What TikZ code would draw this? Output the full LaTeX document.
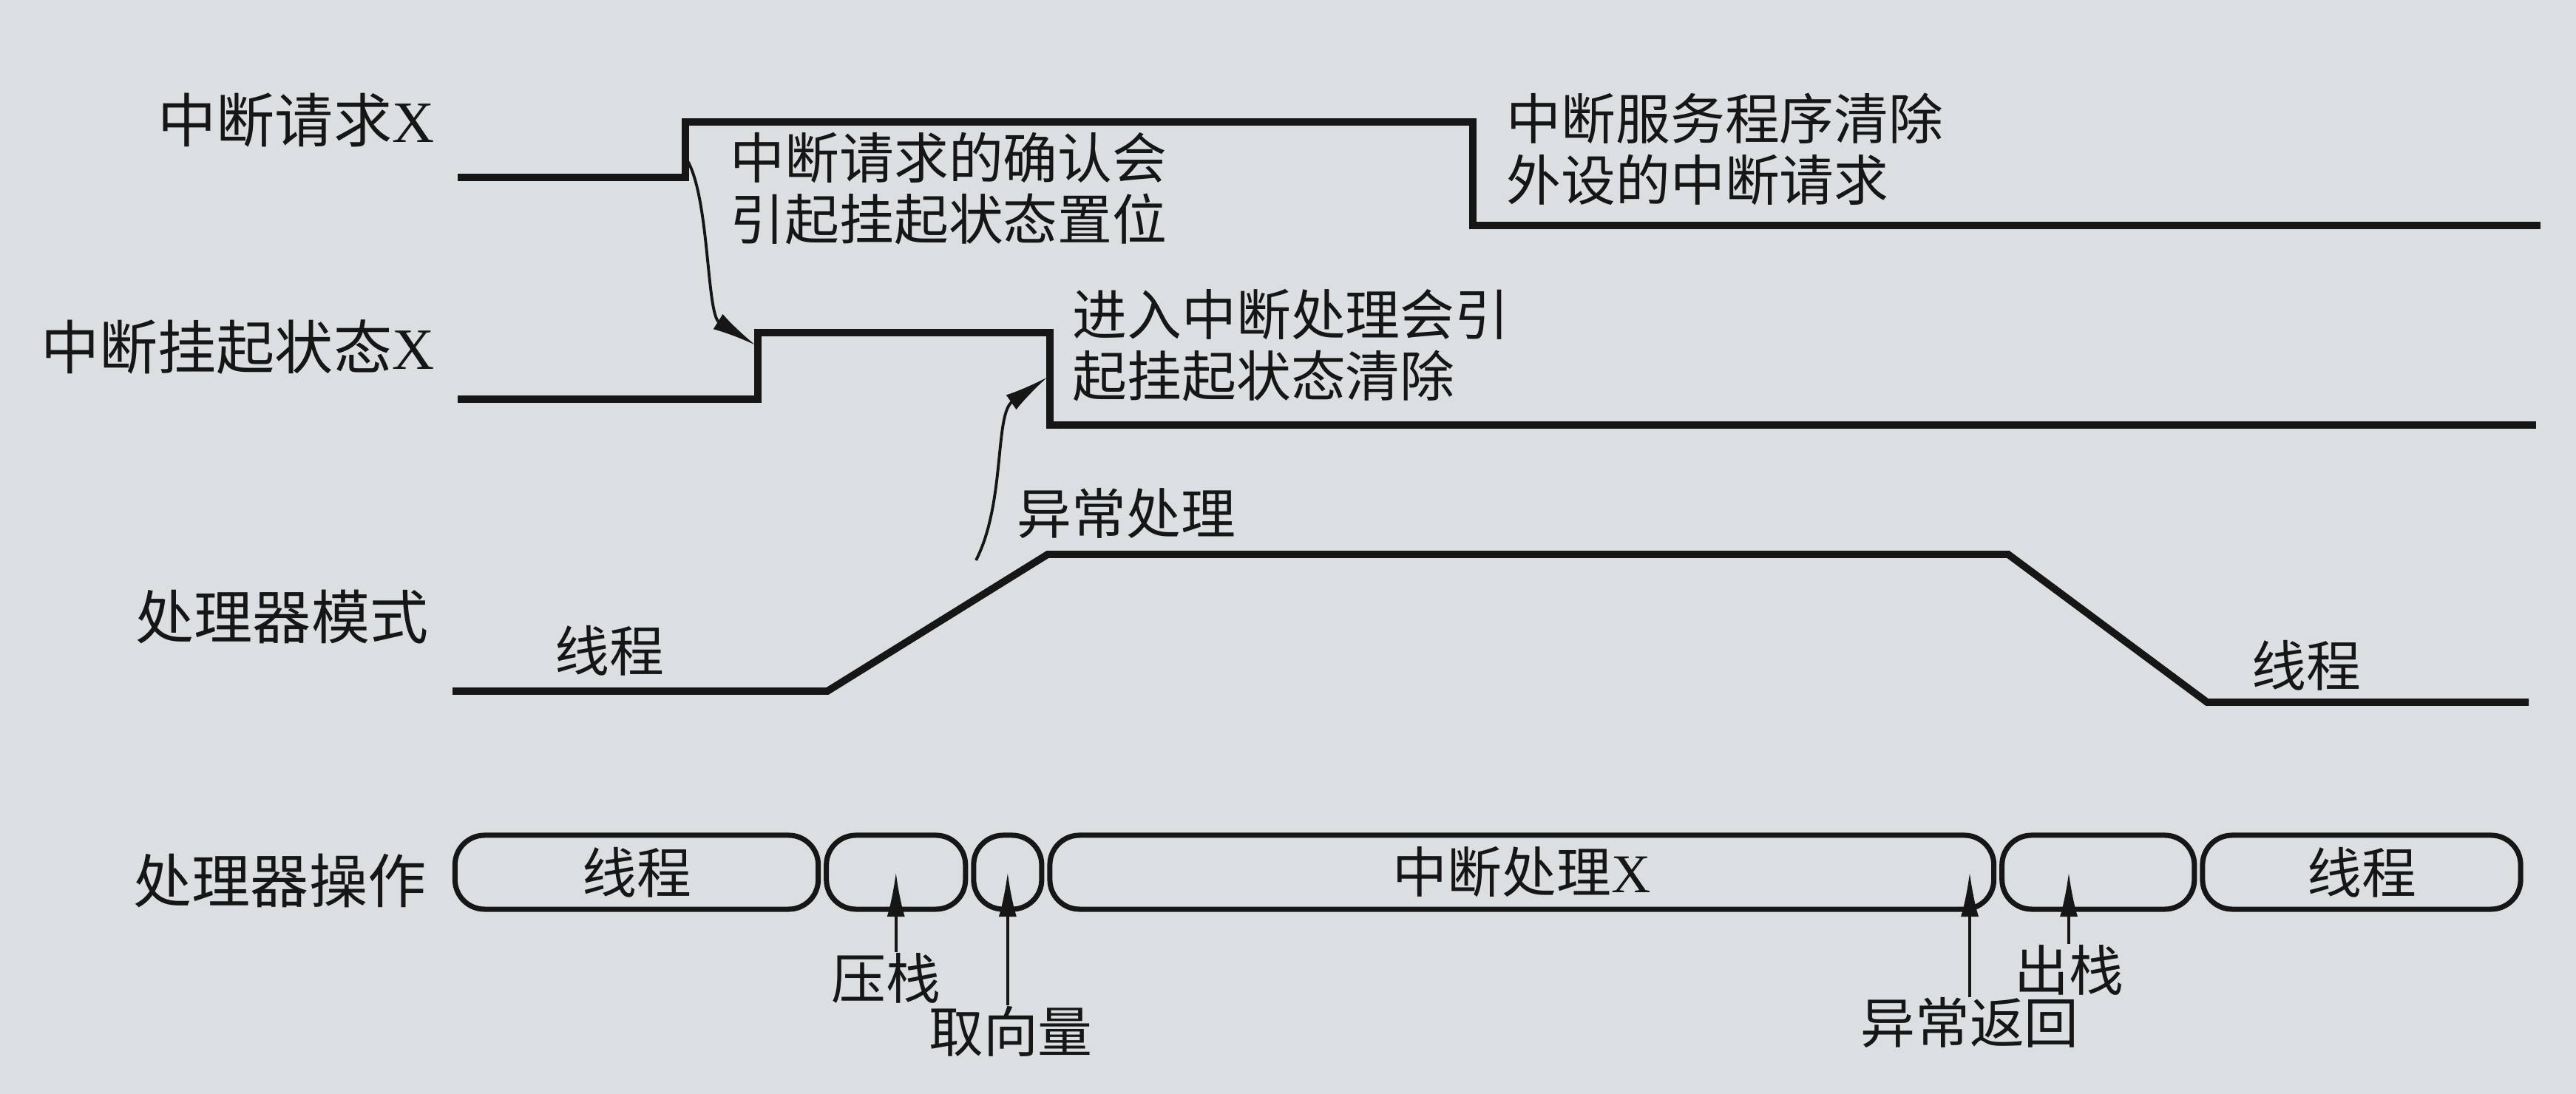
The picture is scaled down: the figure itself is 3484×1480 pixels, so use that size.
\documentclass[tikz,border=0pt]{standalone}
\usepackage{fontspec}
\setmainfont{Liberation Serif}
\newfontfamily\cjk{Noto Sans CJK SC}
\usepackage{tikz}
\usetikzlibrary{shapes,arrows,arrows.meta,positioning}
\definecolor{paper}{RGB}{219,223,226}
\definecolor{ink}{RGB}{22,22,22}

\begin{document}
\begin{tikzpicture}[x=0.01cm, y=-0.01cm, node distance=0.04cm]
    \tikzstyle{wave} = [draw=ink, line width=2.8pt]
    \tikzstyle{op} = [rectangle, draw=ink, line width=2pt, rounded corners=0.4cm, minimum height=1cm, inner sep=0pt, text=ink, font=\cjk\fontsize{21}{24}\selectfont]
    \tikzstyle{sig} = [anchor=east, inner sep=0pt, text=ink, font=\cjk\fontsize{22.5}{26}\selectfont]
    \tikzstyle{note} = [anchor=west, align=left, inner sep=0pt, text=ink, font=\cjk\fontsize{21}{23.5}\selectfont]
    \tikzstyle{tag} = [inner sep=0pt, text=ink, font=\cjk\fontsize{21}{24}\selectfont]
    \tikzstyle{line} = [draw=ink, line width=1.1pt, -{Latex[length=0.6cm, width=0.24cm]}]

    \fill[paper] (0,0) rectangle (3484,1480);

    \node[sig] (req) at (588,163) {中断请求\rmfamily X};
    \node[sig] (pend) at (588,470) {中断挂起状态\rmfamily X};
    \node[sig] (mode) at (580,835) {处理器模式};
    \node[sig] (oper) at (577,1191) {处理器操作};

    \draw[wave] (619,240) -- (927,240) -- (927,165) -- (1992,165) -- (1992,305) -- (3436,305);
    \draw[wave] (619,540) -- (1025,540) -- (1025,450) -- (1420,450) -- (1420,575) -- (3430,575);
    \draw[wave] (612,935) -- (1119,935) -- (1417,750) -- (2716,750) -- (2985,950) -- (3420,950);

    \node[note] (ack) at (987,255) {中断请求的确认会\\引起挂起状态置位};
    \node[note] (clr) at (1450,467) {进入中断处理会引\\起挂起状态清除};
    \node[note] (isrclr) at (2037,202) {中断服务程序清除\\外设的中断请求};
    \node[note] (exc) at (1375,695) {异常处理};
    \node[tag] (thr1) at (824,880) {线程};
    \node[tag] (thr2) at (3119,900) {线程};

    \node[op, minimum width=4.91cm] (thread1) at (861,1180) {线程};
    \node[op, minimum width=1.88cm, right=of thread1] (push) {};
    \node[op, minimum width=0.92cm, right=of push] (vect) {};
    \node[op, minimum width=12.76cm, right=of vect] (isr) {中断处理\rmfamily X};
    \node[op, minimum width=2.60cm, right=of isr] (pop) {};
    \node[op, minimum width=4.30cm, right=of pop] (thread2) {线程};

    \node[tag] (pushlbl) at (1198,1323) {压栈};
    \node[tag] (vectlbl) at (1367,1395) {取向量};
    \node[tag] (retlbl) at (2664,1384) {异常返回};
    \node[tag] (poplbl) at (2798,1312) {出栈};

    \coordinate (ackfrom) at (927,213);
    \coordinate (setpt) at (1022,467);
    \coordinate (excfrom) at (1320,758);
    \coordinate (clrpt) at (1417,510);

    \path[line] (ackfrom) .. controls (960,260) and (955,425) .. (setpt);
    \path[line] (excfrom) .. controls (1360,680) and (1345,560) .. (clrpt);
    \path[line] (push.center |- pushlbl.north) -- (push.center);
    \path[line] (vect.center |- vectlbl.north) -- (vect.center);
    \path[line] (retlbl.north) -- (retlbl.north |- isr.center);
    \path[line] (poplbl.north) -- (poplbl.north |- pop.center);
\end{tikzpicture}
\end{document}
